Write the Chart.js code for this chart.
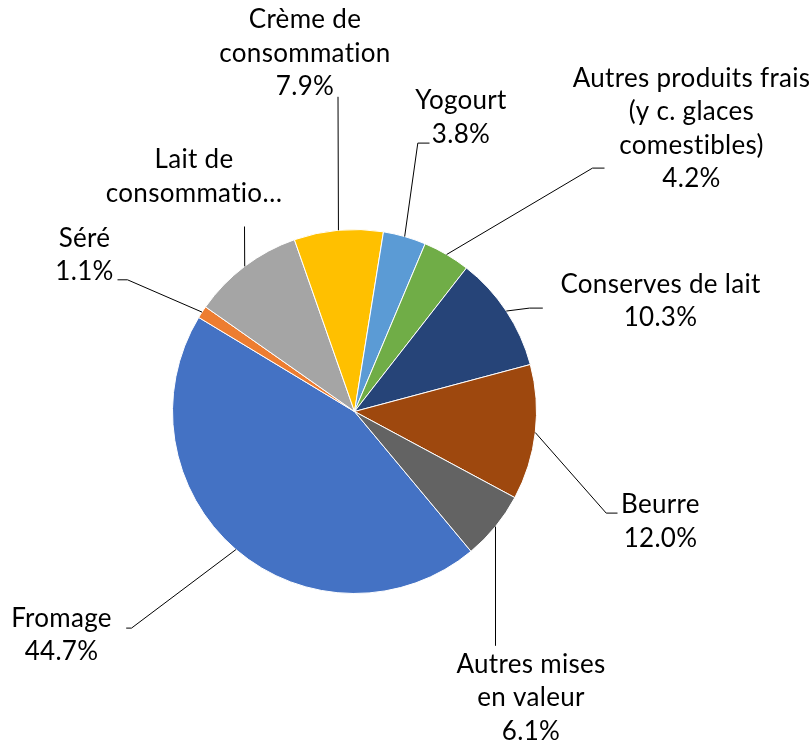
<!DOCTYPE html>
<html>
<head>
<meta charset="utf-8">
<script src="https://cdn.jsdelivr.net/npm/chart.js@4.4.1/dist/chart.umd.min.js"></script>
<style>
  html, body { margin: 0; padding: 0; background: #ffffff; }
  #c { display: block; }
</style>
</head>
<body>
<canvas id="c" width="812" height="747"></canvas>
<script>
// ---- Data ----
const categories = [
  'Fromage', 'Séré', 'Lait de consommation', 'Crème de consommation', 'Yogourt',
  'Autres produits frais (y c. glaces comestibles)', 'Conserves de lait', 'Beurre', 'Autres mises en valeur'
];
const shares = [44.7, 1.1, 9.9, 7.9, 3.8, 4.2, 10.3, 12.0, 6.1];
const labelLines = [
  ['Fromage'],
  ['Séré'],
  ['Lait de', 'consommatio…'],
  ['Crème de', 'consommation'],
  ['Yogourt'],
  ['Autres produits frais', '(y c. glaces', 'comestibles)'],
  ['Conserves de lait'],
  ['Beurre'],
  ['Autres mises', 'en valeur']
];
const showPercent = [true, true, false, true, true, true, true, true, true];

// ---- Styles / layout (not data) ----
const colors = ['#4472C4', '#ED7D31', '#A5A5A5', '#FFC000', '#5B9BD5', '#70AD47', '#264478', '#9E480E', '#636363'];
// label text anchor (center x, first baseline) and leader bend points, relative to pie centre
const labelLayout = [
  { tx: -293,   ty: 215,    leader: [[-223, 216.6], [-228.3, 216.6]] },
  { tx: -270,   ty: -165,   leader: [[-227, -131.7], [-237, -131.7]] },
  { tx: -160.5, ty: -243.4, leader: [[-110, -185]] },
  { tx: -49.5,  ty: -383.4, leader: [[-16.5, -314.7]] },
  { tx: 106.5,  ty: -302.4, leader: [[63.3, -268.4], [75, -268.4]] },
  { tx: 337,    ty: -325,   leader: [[238, -243.4], [250, -243.4]] },
  { tx: 306,    ty: -119,   leader: [[175, -103.4], [188.3, -103.4]] },
  { tx: 306,    ty: 101.6,  leader: [[251.7, 101.6], [263, 101.6]] },
  { tx: 176.5,  ty: 261,    leader: [[141, 234.3]] }
];
const FONT = '26px Lato';
const LINE_H = 33.5;

const outsideLabels = {
  id: 'outsideLabels',
  afterDatasetsDraw(chart) {
    const ctx = chart.ctx;
    const meta = chart.getDatasetMeta(0);
    const cx = meta.data[0].x, cy = meta.data[0].y;
    ctx.save();
    ctx.font = FONT;
    if ('letterSpacing' in ctx) ctx.letterSpacing = '0.3px';
    ctx.fillStyle = '#000000';
    ctx.strokeStyle = '#000000';
    ctx.lineWidth = 1;
    ctx.textAlign = 'center';
    ctx.textBaseline = 'alphabetic';
    meta.data.forEach((arc, i) => {
      const p = arc.getProps(['startAngle', 'endAngle', 'outerRadius'], true);
      const mid = (p.startAngle + p.endAngle) / 2;
      const px = cx + Math.cos(mid) * p.outerRadius;
      const py = cy + Math.sin(mid) * p.outerRadius;
      const L = labelLayout[i];
      ctx.beginPath();
      ctx.moveTo(px, py);
      L.leader.forEach(([dx, dy]) => ctx.lineTo(cx + dx, cy + dy));
      ctx.stroke();
      const lines = labelLines[i].slice();
      if (showPercent[i]) lines.push(shares[i].toFixed(1) + '%');
      lines.forEach((t, k) => ctx.fillText(t, cx + L.tx, cy + L.ty + k * LINE_H));
    });
    ctx.restore();
  }
};

new Chart(document.getElementById('c'), {
  type: 'pie',
  data: {
    labels: categories,
    datasets: [{
      data: shares,
      backgroundColor: colors,
      borderColor: '#ffffff',
      borderWidth: 1
    }]
  },
  options: {
    responsive: false,
    animation: false,
    rotation: 140.2,
    layout: { padding: { left: 172, right: 275, top: 229, bottom: 153 } },
    plugins: { legend: { display: false }, tooltip: { enabled: false } }
  },
  plugins: [outsideLabels]
});
</script>
</body>
</html>
